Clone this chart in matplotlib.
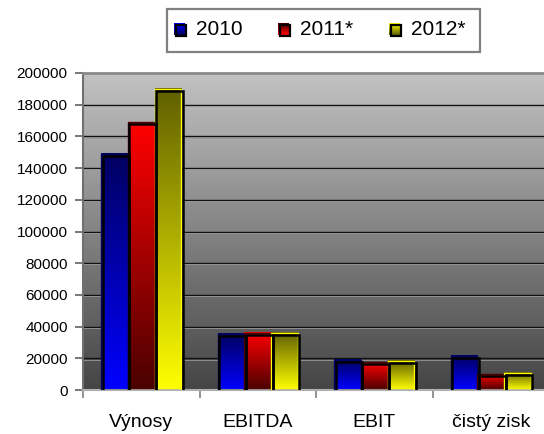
import numpy as np
import matplotlib
matplotlib.use('Agg')
import matplotlib.pyplot as plt
from matplotlib.colors import LinearSegmentedColormap
from matplotlib.patches import Rectangle
from matplotlib.transforms import offset_copy

plt.rcParams['font.family'] = ['Liberation Sans', 'DejaVu Sans']

#data
categories = ['Výnosy', 'EBITDA', 'EBIT', 'čistý zisk']
series_names = ['2010', '2011*', '2012*']
v2010 = [149000, 35500, 19000, 21500]
v2011 = [169000, 36000, 17500, 10000]
v2012 = [190000, 36000, 18500, 11000]
yticks = [0, 20000, 40000, 60000, 80000, 100000, 120000, 140000, 160000, 180000, 200000]

#gradient colours (bottom, top) for each series
grads = [('#0000ff', '#000060'), ('#4a0000', '#ff0000'), ('#ffff00', '#606000')]

fig = plt.figure(figsize=(5.44, 4.34), dpi=100)
W, H = 544, 434
ax = fig.add_axes([83 / W, (H - 390) / H, 466 / W, 317 / H])

#background gradient of the plot area
bg = LinearSegmentedColormap.from_list('bg', ['#454545', '#c2c2c2'])
ax.imshow(np.linspace(0, 1, 256).reshape(-1, 1), cmap=bg, origin='lower',
          extent=[0, 1, 0, 1], transform=ax.transAxes, aspect='auto', zorder=0)

#grid lines with a light line under each
ytr = ax.get_yaxis_transform()
under_tr = offset_copy(ytr, fig, y=-1.2, units='dots')
for t in yticks[1:-1]:
    ax.plot([0, 1], [t, t], color='#111111', lw=1.0, zorder=1, transform=ytr)
    ax.plot([0, 1], [t, t], color='#9a9a9a', lw=0.6, zorder=1, transform=under_tr)

width = 0.2275
x = np.arange(len(categories))
shadow_tr = offset_copy(ax.transData, fig, x=1.5, y=-2.0, units='dots')
for i, vals in enumerate([v2010, v2011, v2012]):
    cmap = LinearSegmentedColormap.from_list('g%d' % i, list(grads[i]))
    for xi, v in zip(x, vals):
        left = xi + (i - 1.5) * width
        ax.imshow(np.linspace(0, 1, 128).reshape(-1, 1), cmap=cmap, origin='lower',
                  extent=[left, left + width, 0, v], aspect='auto', zorder=2)
        ax.add_patch(Rectangle((left, 0), width, v, fill=False,
                               edgecolor=grads[i][1 if i == 0 else 0], lw=1.0, zorder=3))
        ax.add_patch(Rectangle((left, 0), width, v, fill=False,
                               edgecolor='black', lw=1.8, zorder=4, transform=shadow_tr))

ax.set_xlim(-0.5, len(categories) - 0.5)
ax.set_ylim(0, 200000)
ax.set_yticks(yticks)
ax.set_yticklabels([str(t) for t in yticks], fontsize=11)
ax.set_xticks(x)
ax.set_xticklabels(categories, fontsize=14)
ax.set_xticks(np.arange(len(categories) + 1) - 0.5, minor=True)
ax.tick_params(axis='x', which='major', length=0, pad=17)
ax.tick_params(axis='x', which='minor', length=6, color='#808080', width=1.2)
ax.tick_params(axis='y', length=6, color='#606060', width=1.2, pad=5)
ax.spines['right'].set_visible(False)
ax.spines['top'].set_color('#8a8a8a')
ax.spines['top'].set_linewidth(2)
ax.spines['left'].set_color('#707070')
ax.spines['left'].set_linewidth(1.5)
ax.spines['bottom'].set_color('#b0b0b0')
ax.spines['bottom'].set_linewidth(1.5)

#legend drawn by hand on an overlay in pixel coords
lg = fig.add_axes([0, 0, 1, 1])
lg.set_xlim(0, W)
lg.set_ylim(H, 0)
lg.axis('off')
lg.add_patch(Rectangle((167, 9), 313, 43, fill=False, edgecolor='#808080', lw=1.6))
for i, (name, lx) in enumerate(zip(series_names, [174, 278, 389])):
    cmap = LinearSegmentedColormap.from_list('l%d' % i, list(grads[i]))
    lg.imshow(np.linspace(0, 1, 32).reshape(-1, 1), cmap=cmap, origin='upper',
              extent=[lx, lx + 11, 35, 23], aspect='auto')
    lg.add_patch(Rectangle((lx + 1.5, 24.5), 10.5, 11.5, fill=False, edgecolor='black', lw=1.6))
    lg.text(lx + 22, 29.5, name, fontsize=15, va='center', ha='left')
lg.set_xlim(0, W)
lg.set_ylim(H, 0)

fig.savefig('out.png', dpi=100)
